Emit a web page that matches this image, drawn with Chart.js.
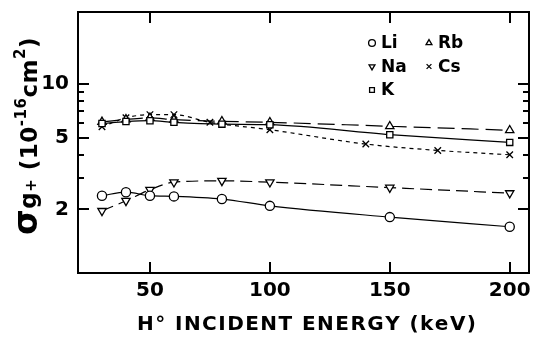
<!DOCTYPE html>
<html>
<head>
<meta charset="utf-8">
<script src="https://cdn.jsdelivr.net/npm/chart.js@4/dist/chart.umd.min.js"></script>
<style>
  html, body { margin: 0; padding: 0; background: #fff; }
  #wrap { width: 535px; height: 337px; }
</style>
</head>
<body>
<div id="wrap"><canvas id="c" width="535" height="337"></canvas></div>
<script>
// ---- data ----
const energies = [30, 40, 50, 60, 80, 100, 150, 200];
const energiesCs = [30, 40, 50, 60, 75, 100, 140, 170, 200];
const sigmaLi = [2.38, 2.49, 2.38, 2.36, 2.28, 2.09, 1.81, 1.60];
const sigmaNa = [1.96, 2.23, 2.57, 2.83, 2.88, 2.83, 2.64, 2.46];
const sigmaK  = [6.00, 6.15, 6.22, 6.09, 5.95, 5.91, 5.20, 4.71];
const sigmaRb = [6.12, 6.32, 6.44, 6.30, 6.17, 6.09, 5.79, 5.50];
const sigmaCs = [5.75, 6.45, 6.72, 6.72, 6.09, 5.54, 4.61, 4.25, 4.02];
const xTickValues = [50, 100, 150, 200];
const yTickValues = [2, 5, 10];
const yMinorTickValues = [3, 4, 6, 7, 8, 9];
const seriesNames = ['Li', 'Na', 'K', 'Rb', 'Cs'];
const xTitle = 'H° INCIDENT ENERGY (keV)';

const FONT = '"DejaVu Sans", "Liberation Sans", sans-serif';

function pts(xs, ys) { return xs.map((x, i) => ({ x: x, y: ys[i] })); }

const common = {
  borderColor: '#000',
  borderWidth: 1.2,
  pointBorderColor: '#000',
  pointBackgroundColor: '#fff',
  pointBorderWidth: 1.3,
  cubicInterpolationMode: 'monotone',
  fill: false,
  clip: false
};

const datasets = [
  Object.assign({}, common, { label: seriesNames[0], data: pts(energies, sigmaLi), pointStyle: 'circle', pointRadius: 4.6, borderDash: [] }),
  Object.assign({}, common, { label: seriesNames[1], data: pts(energies, sigmaNa), pointStyle: 'triangle', pointRotation: 180, pointRadius: 4.8, borderDash: [12, 6] }),
  Object.assign({}, common, { label: seriesNames[2], data: pts(energies, sigmaK), pointStyle: 'rect', pointRadius: 4.4, borderDash: [] }),
  Object.assign({}, common, { label: seriesNames[3], data: pts(energies, sigmaRb), pointStyle: 'triangle', pointRadius: 4.8, borderDash: [17, 7] }),
  Object.assign({}, common, { label: seriesNames[4], data: pts(energiesCs, sigmaCs), pointStyle: 'crossRot', pointRadius: 4.6, borderDash: [4, 4] })
];

const framePlugin = {
  id: 'frame',
  afterDraw(chart) {
    const ctx = chart.ctx;
    const a = chart.chartArea;
    const xs = chart.scales.x, ys = chart.scales.y;
    ctx.save();
    ctx.setLineDash([]);
    ctx.globalAlpha = 1;
    ctx.fillStyle = '#000';
    ctx.strokeStyle = '#000';
    const L = Math.round(a.left), R = Math.round(a.right), T = Math.round(a.top), B = Math.round(a.bottom);
    // frame (2px)
    ctx.fillRect(L - 1, T - 1, R - L + 2, 2);
    ctx.fillRect(L - 1, B - 1, R - L + 2, 2);
    ctx.fillRect(L - 1, T - 1, 2, B - T + 2);
    ctx.fillRect(R - 1, T - 1, 2, B - T + 2);
    // x ticks (bottom and top, inward)
    xTickValues.forEach(v => {
      const px = Math.round(xs.getPixelForValue(v));
      ctx.fillRect(px - 1, B - 11, 2, 11);
      ctx.fillRect(px - 1, T, 2, 11);
    });
    // y major ticks
    yTickValues.forEach(v => {
      const py = Math.round(ys.getPixelForValue(v));
      ctx.fillRect(L, py - 1, 11, 2);
      ctx.fillRect(R - 11, py - 1, 11, 2);
    });
    // y minor ticks
    yMinorTickValues.forEach(v => {
      const py = Math.round(ys.getPixelForValue(v));
      ctx.fillRect(L, py - 1, 6, 2);
      ctx.fillRect(R - 6, py - 1, 6, 2);
    });

    // x axis title, spaced lettering
    ctx.font = 'bold 20px ' + FONT;
    ctx.textBaseline = 'alphabetic';
    ctx.textAlign = 'left';
    const targetW = 339;
    const chars = Array.from(xTitle);
    const wSum = chars.reduce((s, c) => s + ctx.measureText(c).width, 0);
    const sp = (targetW - wSum) / (chars.length - 1);
    let cx = (a.left + a.right) / 2 - targetW / 2 + 3;
    chars.forEach(c => {
      ctx.fillText(c, cx, 330);
      cx += ctx.measureText(c).width + sp;
    });

    // y axis title, rotated
    ctx.save();
    ctx.translate(37, 136);
    ctx.rotate(-Math.PI / 2);
    const parts = [
      { t: 'σ', f: 33, dy: 0 },
      { t: 'g', f: 23, dy: -1 },
      { t: '+', f: 15, dy: -1 },
      { t: ' (10', f: 23, dy: 0 },
      { t: '-16', f: 15, dy: -11 },
      { t: 'cm', f: 23, dy: 0 },
      { t: '2', f: 15, dy: -12 },
      { t: ')', f: 23, dy: 0 }
    ];
    const gap = 0.5;
    let total = 0;
    parts.forEach(p => { ctx.font = 'bold ' + p.f + 'px ' + FONT; total += Array.from(p.t).reduce((s, c) => s + ctx.measureText(c).width + gap, 0); });
    let tx = -total / 2;
    parts.forEach(p => {
      ctx.font = 'bold ' + p.f + 'px ' + FONT;
      Array.from(p.t).forEach(c => {
        ctx.fillText(c, tx, p.dy);
        tx += ctx.measureText(c).width + gap;
      });
    });
    ctx.restore();

    // legend
    const legendItems = [
      { i: 0, col: 0, row: 0 }, { i: 3, col: 1, row: 0 },
      { i: 1, col: 0, row: 1 }, { i: 4, col: 1, row: 1 },
      { i: 2, col: 0, row: 2 }
    ];
    ctx.font = 'bold 17px ' + FONT;
    ctx.textBaseline = 'middle';
    legendItems.forEach(it => {
      const ds = chart.data.datasets[it.i];
      const mx = 372 + it.col * 57;
      const my = 43 + it.row * 23.5;
      ctx.lineWidth = 1.3;
      ctx.strokeStyle = '#000';
      ctx.fillStyle = '#fff';
      Chart.helpers.drawPoint(ctx, { pointStyle: ds.pointStyle, rotation: ds.pointRotation || 0, radius: 3.4, borderWidth: 1.3 }, mx, my);
      ctx.fillStyle = '#000';
      ctx.fillText(ds.label, mx + 9, my + 1);
    });
    ctx.restore();
  }
};

new Chart(document.getElementById('c'), {
  type: 'line',
  data: { datasets: datasets },
  plugins: [framePlugin],
  options: {
    responsive: false,
    animation: false,
    devicePixelRatio: 1,
    layout: { padding: { top: 12, right: 5, left: 0, bottom: 0 } },
    plugins: { legend: { display: false }, tooltip: { enabled: false } },
    scales: {
      x: {
        type: 'linear',
        min: 20, max: 208,
        grid: { display: false, drawTicks: false },
        border: { display: false },
        afterFit: s => { s.height = 64; s.paddingLeft = 0; s.paddingRight = 0; },
        afterBuildTicks: s => { s.ticks = xTickValues.map(v => ({ value: v })); },
        ticks: { color: '#000', padding: 6, maxRotation: 0, font: { family: FONT, size: 20, weight: 'bold' }, callback: v => String(v) }
      },
      y: {
        type: 'logarithmic',
        min: 0.885, max: 25,
        grid: { display: false, drawTicks: false },
        border: { display: false },
        afterFit: s => { s.width = 78; s.paddingTop = 0; s.paddingBottom = 0; },
        afterBuildTicks: s => { s.ticks = yTickValues.map(v => ({ value: v })); },
        ticks: { color: '#000', padding: 9, font: { family: FONT, size: 20, weight: 'bold' }, callback: v => String(v) }
      }
    }
  }
});
</script>
</body>
</html>
